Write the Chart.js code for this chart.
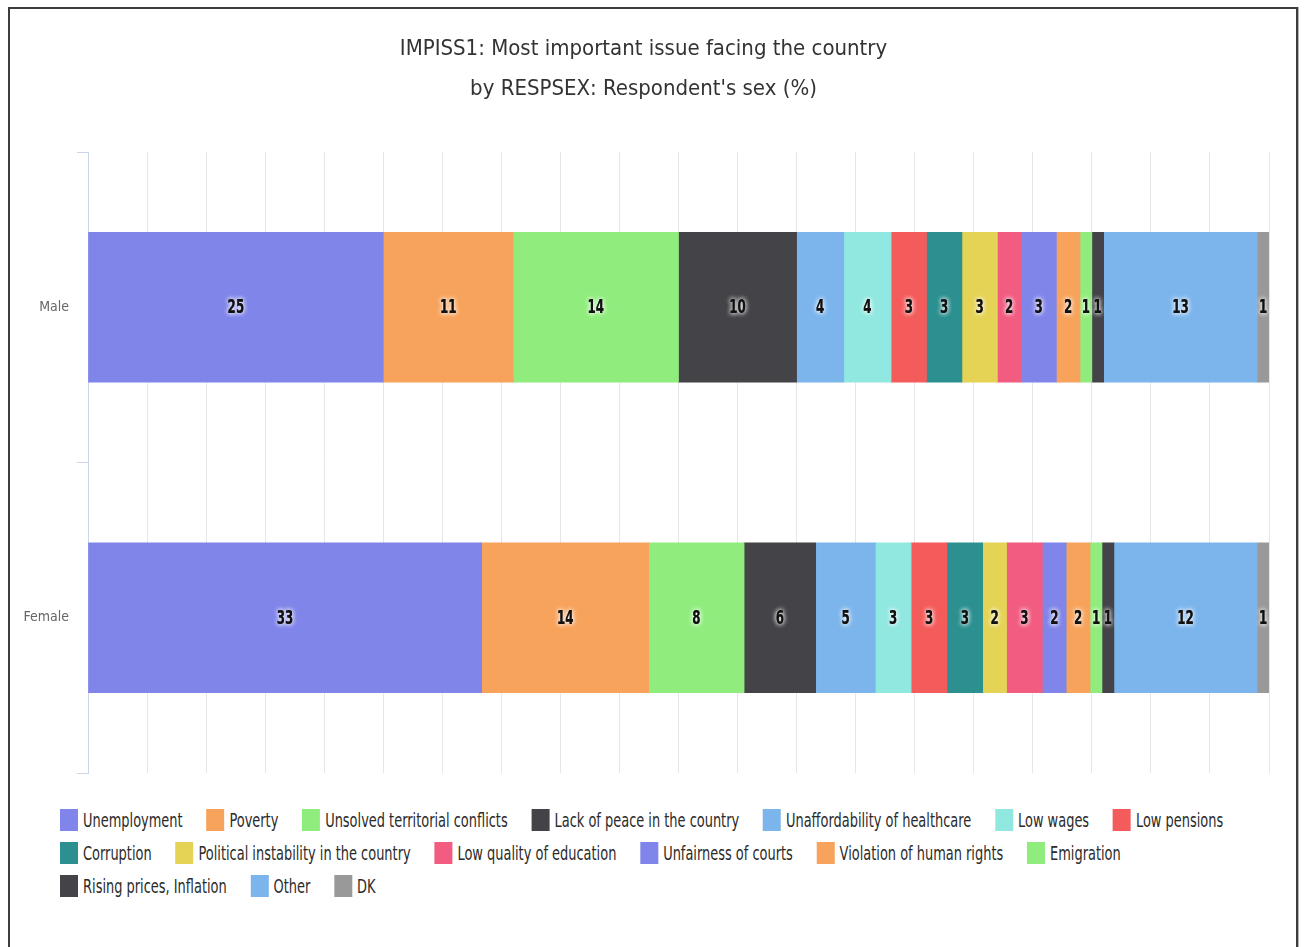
<!DOCTYPE html>
<html>
<head>
<meta charset="utf-8">
<title>IMPISS1 by RESPSEX</title>
<script src="https://cdn.jsdelivr.net/npm/chart.js@4.4.0/dist/chart.umd.min.js"></script>
<style>
  html, body { margin: 0; padding: 0; background: #fff; overflow: hidden; }
  .frame {
    position: absolute; left: 8px; top: 7px;
    width: 1286px; height: 960px;
    border: 2px solid #3d3d3d; border-bottom: none;
    box-shadow: 1px 0 0 #b5b5b5;
  }
  .chart-box { position: relative; width: 1286px; height: 790px; }
  /* legend is laid out wide and narrowed horizontally, like the condensed chart text */
  #legend {
    position: absolute; left: 50px; top: 800px; width: 1667px;
    transform: scaleX(0.72); transform-origin: 0 0;
    display: flex; flex-wrap: wrap; column-gap: 33px; row-gap: 11px;
    font: 20px "DejaVu Sans Condensed", "DejaVu Sans", sans-serif;
    color: #2b2b2b;
  }
  #legend .item { display: flex; align-items: center; height: 22px; cursor: pointer; white-space: nowrap; }
  #legend .swatch { width: 25px; height: 22px; margin-right: 7px; }
  #legend .item.off { color: #ccc; }
  #legend .item.off .swatch { background: #ccc !important; }
</style>
</head>
<body>
<div class="frame">
  <div class="chart-box"><canvas id="issuesChart"></canvas></div>
  <div id="legend"></div>
</div>
<script>
const FONT = '"DejaVu Sans Condensed", "DejaVu Sans", sans-serif';

const categories = ['Male', 'Female'];
const issues = [
  'Unemployment', 'Poverty', 'Unsolved territorial conflicts', 'Lack of peace in the country',
  'Unaffordability of healthcare', 'Low wages', 'Low pensions', 'Corruption',
  'Political instability in the country', 'Low quality of education', 'Unfairness of courts',
  'Violation of human rights', 'Emigration', 'Rising prices, Inflation', 'Other', 'DK'
];
// percent of respondents, one entry per issue
const male   = [25, 11, 14, 10, 4, 4, 3, 3, 3, 2, 3, 2, 1, 1, 13, 1];
const female = [33, 14, 8, 6, 5, 3, 3, 3, 2, 3, 2, 2, 1, 1, 12, 1];

const palette = [
  '#8085e9', '#f7a35c', '#90ed7d', '#434348', '#7cb5ec', '#91e8e1', '#f45b5b', '#2b908f',
  '#e4d354', '#f15c80', '#8085e9', '#f7a35c', '#90ed7d', '#434348', '#7cb5ec', '#999999'
];

// bars are stacked to 100% per row, labels keep the survey figure
const rows = [male, female];
const totals = rows.map(r => r.reduce((a, b) => a + b, 0));

const datasets = issues.map((name, i) => ({
  label: name,
  raw: rows.map(r => r[i]),
  data: rows.map((r, k) => r[i] * 100 / totals[k]),
  backgroundColor: palette[i],
  borderWidth: 0,
  barThickness: 150
}));

// value in the middle of every segment: narrow dark digits with a light halo
const valueLabels = {
  id: 'valueLabels',
  afterDatasetsDraw(chart) {
    const ctx = chart.ctx;
    chart.data.datasets.forEach((ds, i) => {
      if (!chart.isDatasetVisible(i)) return;
      chart.getDatasetMeta(i).data.forEach((bar, j) => {
        const p = bar.getCenterPoint();
        ctx.save();
        ctx.translate(p.x, p.y);
        ctx.scale(0.66, 1);
        ctx.font = 'bold 20px ' + FONT;
        ctx.textAlign = 'center';
        ctx.textBaseline = 'middle';
        ctx.fillStyle = '#111';
        ctx.shadowColor = 'rgba(255,255,255,0.95)';
        ctx.shadowBlur = 5;
        ctx.fillText(String(ds.raw[j]), 0, 1);
        ctx.fillText(String(ds.raw[j]), 0, 1);
        ctx.restore();
      });
    });
  }
};

const chart = new Chart(document.getElementById('issuesChart'), {
  type: 'bar',
  data: { labels: categories, datasets: datasets },
  options: {
    indexAxis: 'y',
    responsive: true,
    maintainAspectRatio: false,
    animation: false,
    layout: { padding: { left: 8, right: 27, bottom: 26 } },
    plugins: {
      legend: { display: false },
      title: {
        display: true,
        text: ['IMPISS1: Most important issue facing the country', "by RESPSEX: Respondent's sex (%)"],
        color: '#333',
        font: { family: FONT, size: 22, weight: 'normal', lineHeight: 40 / 22 },
        padding: { top: 20, bottom: 43 }
      },
      tooltip: {
        callbacks: {
          label: c => c.dataset.label + ': ' + c.dataset.raw[c.dataIndex] + '%'
        }
      }
    },
    scales: {
      x: {
        stacked: true,
        min: 0,
        max: 100,
        ticks: { display: false, stepSize: 5 },
        grid: { color: '#e6e6e6', drawTicks: false },
        border: { display: false },
        afterFit(scale) { scale.height = 0; }
      },
      y: {
        stacked: true,
        border: { color: '#ccd6eb' },
        grid: { drawOnChartArea: false, color: '#ccd6eb', tickLength: 11, offset: true },
        ticks: { color: '#666', font: { family: FONT, size: 14 }, padding: 8 },
        afterFit(scale) { scale.width = 70; }
      }
    }
  },
  plugins: [valueLabels]
});

// html legend below the chart, click toggles a series
const legendEl = document.getElementById('legend');
chart.data.datasets.forEach((ds, i) => {
  const item = document.createElement('div');
  item.className = 'item';
  const sw = document.createElement('span');
  sw.className = 'swatch';
  sw.style.background = ds.backgroundColor;
  const txt = document.createElement('span');
  txt.textContent = ds.label;
  item.append(sw, txt);
  item.onclick = () => {
    chart.setDatasetVisibility(i, !chart.isDatasetVisible(i));
    item.classList.toggle('off');
    chart.update();
  };
  legendEl.appendChild(item);
});
</script>
</body>
</html>
